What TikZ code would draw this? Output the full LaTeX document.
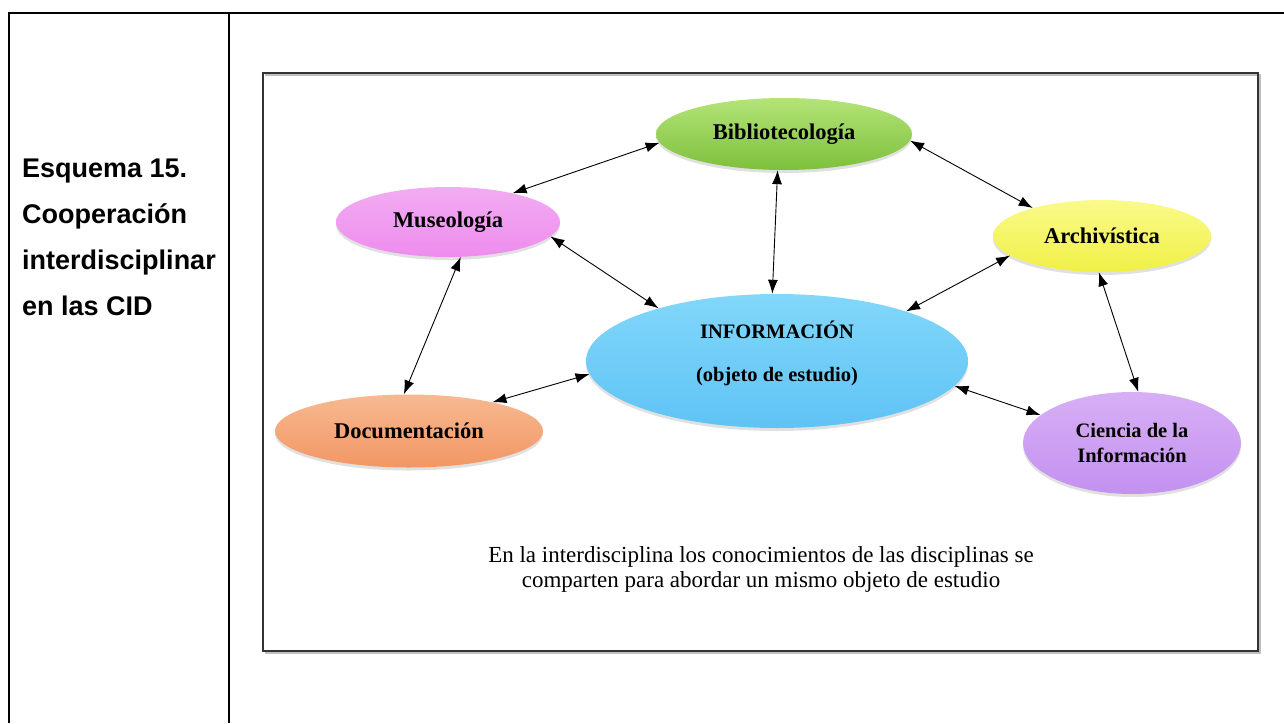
\documentclass[tikz,border=0pt]{standalone}
\usepackage{fontspec}
\setmainfont{Liberation Serif}
\newfontfamily\arialfont{Liberation Sans}
\usetikzlibrary{shapes.geometric,arrows.meta,shadows}
\tikzset{
  blob/.style={ellipse, inner sep=0pt, font=\bfseries\fontsize{22.5}{26}\selectfont, align=center,
    drop shadow={shadow xshift=0pt, shadow yshift=-3pt, opacity=0.2, fill=black!60}},
  link/.style={{Latex[length=14pt,width=10pt]}-{Latex[length=14pt,width=10pt]}, line width=0.9pt, black},
  frame/.style={line width=2pt, black},
}
\begin{document}
\begin{tikzpicture}[x=1pt,y=-1pt]
\useasboundingbox (0,0) rectangle (1284,723);
% outer table lines
\draw[frame] (9,13) -- (1284,13);
\draw[frame] (9,12) -- (9,723);
\draw[frame] (229,13) -- (229,723);
\node[anchor=base west, inner sep=0pt, align=left, font=\arialfont\bfseries\fontsize{27}{46}\selectfont] (cap) at (22,315)
  {Esquema 15.\\Cooperación\\interdisciplinar\\en las CID};
% inner frame
\draw[line width=1.2pt, black!25] (265,75) -- (1260,75) -- (1260,653) -- (265,653);
\draw[line width=1.2pt, black!80] (263,73) rectangle (1258,651);
% ellipses
\node[blob, minimum width=256, minimum height=72, top color={rgb,255:red,180;green,228;blue,120}, bottom color={rgb,255:red,125;green,192;blue,60}] (bib) at (784,134) {Bibliotecología};
\node[blob, minimum width=224, minimum height=70, top color={rgb,255:red,242;green,172;blue,242}, bottom color={rgb,255:red,238;green,140;blue,238}] (mus) at (448,222) {Museología};
\node[blob, minimum width=218, minimum height=72, top color={rgb,255:red,250;green,250;blue,140}, bottom color={rgb,255:red,240;green,240;blue,70}] (arc) at (1102,236) {Archivística};
\node[blob, minimum width=382, minimum height=134, top color={rgb,255:red,130;green,215;blue,250}, bottom color={rgb,255:red,95;green,195;blue,245},
  label={[font=\bfseries\fontsize{20.5}{26}\selectfont, align=center, yshift=8pt]center:{INFORMACIÓN\\[17pt](objeto de estudio)}}] (inf) at (777,361) {};
\node[blob, minimum width=268, minimum height=73, top color={rgb,255:red,248;green,185;blue,145}, bottom color={rgb,255:red,242;green,150;blue,100}] (doc) at (409,431) {Documentación};
\node[blob, minimum width=218, minimum height=102, top color={rgb,255:red,215;green,175;blue,245}, bottom color={rgb,255:red,195;green,145;blue,240}, font=\bfseries\fontsize{20.5}{25}\selectfont] (cie) at (1132,443) {Ciencia de la\\Información};
% caption
\node[anchor=base, align=center, inner sep=0pt, font=\fontsize{23}{25}\selectfont] (txt) at (761,587)
  {En la interdisciplina los conocimientos de las disciplinas se\\comparten para abordar un mismo objeto de estudio};
% connectors
\draw[link] (mus.24) -- (bib.184);
\draw[link] (bib.-3) -- (arc.158);
\draw[link] (bib.-100) -- (inf.94);
\draw[link] (mus.-8) -- (inf.156);
\draw[link] (arc.192) -- (inf.21);
\draw[link] (mus.-70) -- (doc.98);
\draw[link] (doc.19) -- (inf.184);
\draw[link] (inf.-8) -- (cie.163);
\draw[link] (arc.-95) -- (cie.83);
\end{tikzpicture}
\end{document}
